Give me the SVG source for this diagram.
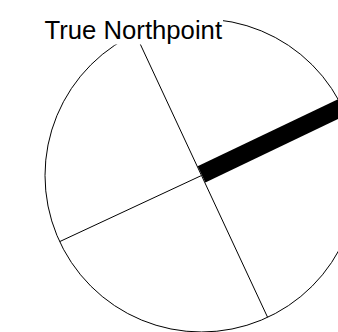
<svg xmlns="http://www.w3.org/2000/svg" width="338" height="332" viewBox="0 0 338 332">
  <style>
    .thin { stroke: #000; stroke-width: 1; fill: none; }
    .bar { stroke: #000; stroke-width: 18; stroke-linecap: butt; fill: none; }
    .label { font-family: "Liberation Sans", Arial, sans-serif; font-size: 25.7px; fill: #000; }
  </style>
  <rect x="0" y="0" width="338" height="332" fill="#fff"/>
  <g id="compass">
    <circle cx="201.5" cy="175.5" r="156.5" class="thin"/>
  </g>
  <g id="connectors">
    <line x1="201.5" y1="175.5" x2="135.4" y2="33.7" class="thin"/>
    <line x1="201.5" y1="175.5" x2="267.6" y2="317.3" class="thin"/>
    <line x1="201.5" y1="175.5" x2="59.7" y2="241.6" class="thin"/>
  </g>
  <g id="north-bar">
    <line x1="201.5" y1="174.3" x2="345" y2="105.8" class="bar"/>
  </g>
  <g id="label">
    <rect x="42" y="12" width="181" height="32.5" fill="#fff"/>
    <text x="44.5" y="39.3" class="label">True Northpoint</text>
  </g>
</svg>
